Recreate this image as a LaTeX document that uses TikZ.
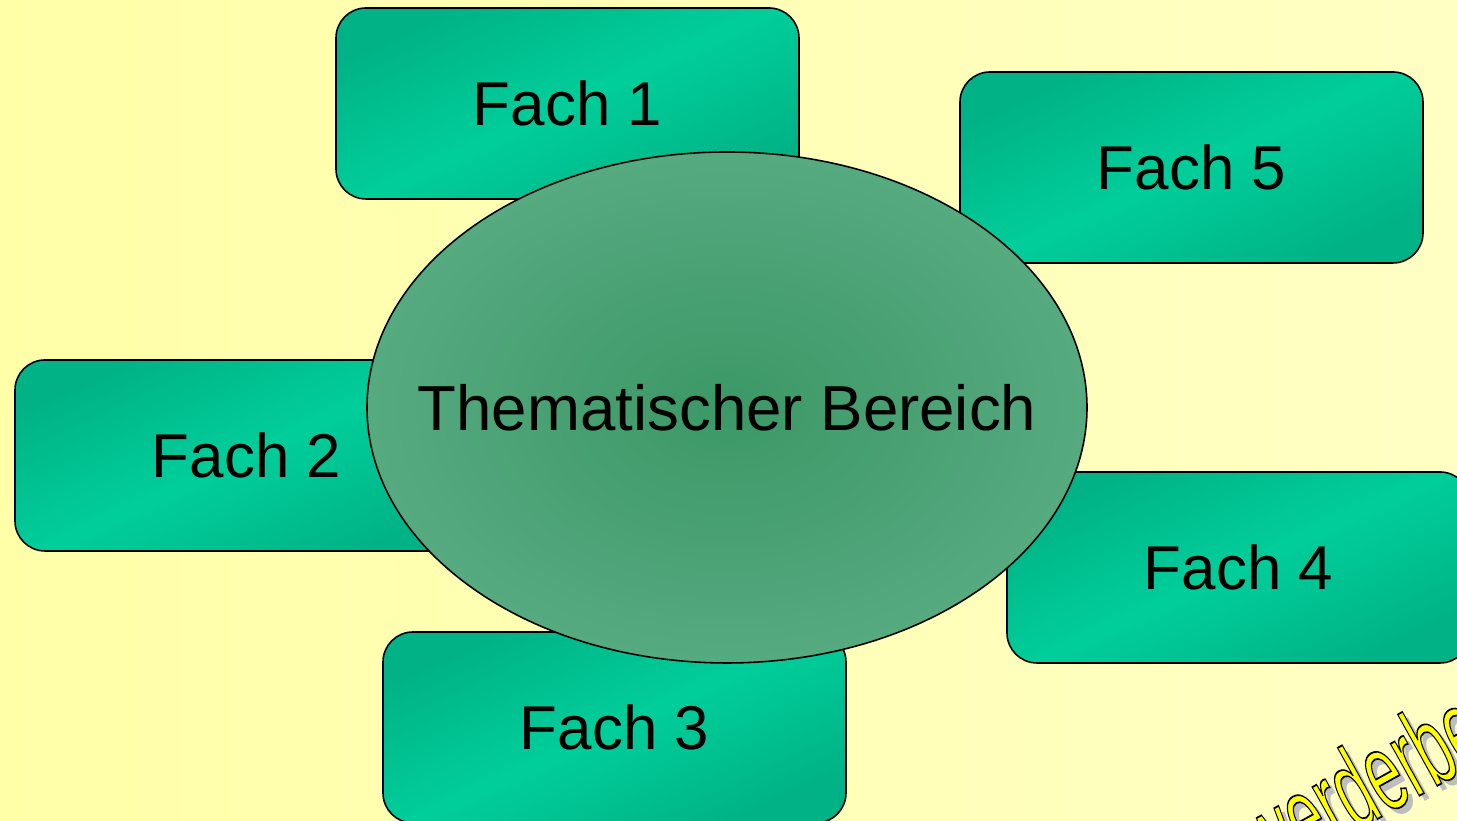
\documentclass[tikz,border=0pt]{standalone}
\usepackage{fontspec}
\setmainfont{Liberation Sans}

\definecolor{bgleft}{RGB}{255,255,168}
\definecolor{bgright}{RGB}{255,255,196}
\definecolor{fachdark}{RGB}{0,178,134}
\definecolor{fachlight}{RGB}{0,206,154}
\definecolor{bereichdark}{RGB}{60,152,102}
\definecolor{bereichlight}{RGB}{86,170,128}
\definecolor{wordyellow}{RGB}{255,255,0}
\definecolor{wordshadow}{RGB}{190,190,190}

\newcommand{\outlineword}[1]{\special{pdf:literal direct 0 G 2 Tr 0.5 w}#1\special{pdf:literal direct 0 Tr}}

\begin{document}
\begin{tikzpicture}[
    fach/.style={draw=black,line width=0.45pt,rounded corners=0.3cm,
        minimum width=4.63cm,minimum height=1.91cm,inner sep=0pt,
        top color=fachdark,bottom color=fachdark,middle color=fachlight,shading angle=25,
        font=\fontsize{17.6}{20}\selectfont},
    bereich/.style={draw=black,line width=0.45pt,
        inner color=bereichdark,outer color=bereichlight},
    wordart/.style={rotate=29,xscale=0.55,anchor=base,inner sep=0pt,
        font=\fontsize{32}{32}\selectfont}]
    \useasboundingbox (0,0) rectangle (14.57,8.21);
    \clip (0,0) rectangle (14.57,8.21);
    \shade[left color=bgleft,right color=bgright] (0,0) rectangle (14.57,8.21);

    \node[wordart,text=wordshadow] (schatten) at (13.87,-0.02) {werderbe};
    \node[wordart,text=wordyellow] (wort) at (13.81,0.04) {\outlineword{werderbe}};

    \node[fach] (fach1) at (5.675,7.175) {Fach 1};
    \node[fach] (fach2) at (2.465,3.655) {Fach 2};
    \node[fach] (fach3) at (6.145,0.935) {Fach 3};
    \node[fach] (fach4) at (12.385,2.535) {Fach 4};
    \node[fach] (fach5) at (11.915,6.535) {Fach 5};

    \coordinate (mitte) at (7.27,4.135);
    \shade[bereich] (mitte) ellipse [x radius=3.6,y radius=2.555];
    \node[font=\fontsize{18.1}{20}\selectfont] (bereich) at (mitte) {Thematischer Bereich};
\end{tikzpicture}
\end{document}
